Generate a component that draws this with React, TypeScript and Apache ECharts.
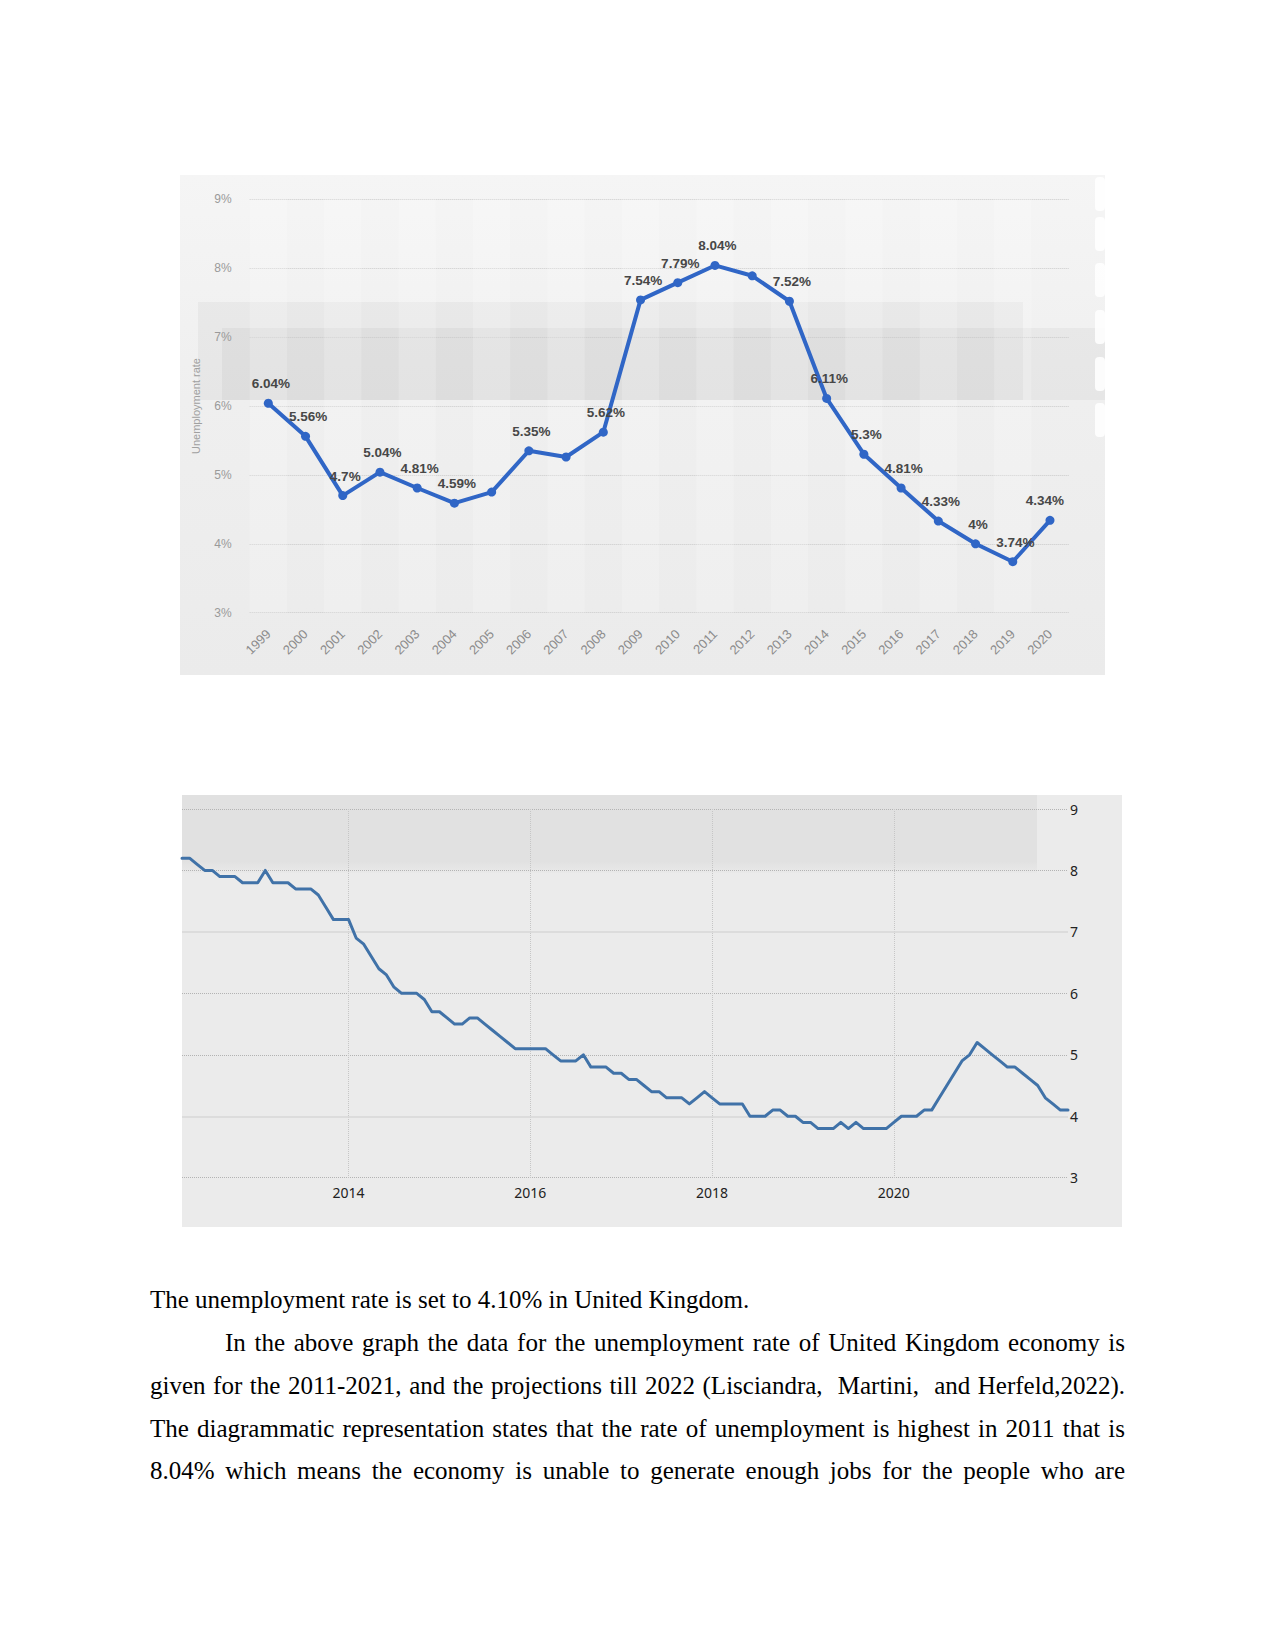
import React, { useEffect, useRef } from "react";
import * as echarts from "echarts";

// ---------- Chart 1: annual unemployment rate ----------
const years1 = ["1999","2000","2001","2002","2003","2004","2005","2006","2007","2008","2009","2010","2011","2012","2013","2014","2015","2016","2017","2018","2019","2020"];
const rates1 = [6.04,5.56,4.7,5.04,4.81,4.59,4.75,5.35,5.26,5.62,7.54,7.79,8.04,7.89,7.52,6.11,5.3,4.81,4.33,4,3.74,4.34];
const labelShown1 = [true,true,true,true,true,true,false,true,false,true,true,true,true,false,true,true,true,true,true,true,true,true];
const yMin = 3;
const yMax = 9;
const yStep = 1;

// ---------- Chart 2: monthly unemployment rate (Mar 2012 - Dec 2021) ----------
const startYear2 = 2012;
const startMonth2 = 3;
const rates2 = [
  8.2,8.2,8.1,8.0,8.0,7.9,7.9,7.9,7.8,7.8,
  7.8,8.0,7.8,7.8,7.8,7.7,7.7,7.7,7.6,7.4,
  7.2,7.2,7.2,6.9,6.8,6.6,6.4,6.3,6.1,6.0,
  6.0,6.0,5.9,5.7,5.7,5.6,5.5,5.5,5.6,5.6,
  5.5,5.4,5.3,5.2,5.1,5.1,5.1,5.1,5.1,5.0,
  4.9,4.9,4.9,5.0,4.8,4.8,4.8,4.7,4.7,4.6,
  4.6,4.5,4.4,4.4,4.3,4.3,4.3,4.2,4.3,4.4,
  4.3,4.2,4.2,4.2,4.2,4.0,4.0,4.0,4.1,4.1,
  4.0,4.0,3.9,3.9,3.8,3.8,3.8,3.9,3.8,3.9,
  3.8,3.8,3.8,3.8,3.9,4.0,4.0,4.0,4.1,4.1,
  4.3,4.5,4.7,4.9,5.0,5.2,5.1,5.0,4.9,4.8,
  4.8,4.7,4.6,4.5,4.3,4.2,4.1,4.1
];
const months2 = rates2.map((_, i) => {
  const m = startMonth2 - 1 + i;
  return `${startYear2 + Math.floor(m / 12)}-${String((m % 12) + 1).padStart(2, "0")}`;
});
const yearLabels2 = ["2014","2016","2018","2020"];
const solidGridValues2 = [4, 7];

// ---------- Body text ----------
const textLine1 = "The unemployment rate is set to 4.10% in United Kingdom.";
const textLinesJustified = [
  "In the above graph the data for the unemployment rate of United Kingdom economy is",
  "given for the 2011-2021, and the projections till 2022 (Lisciandra,\u00a0 Martini,\u00a0 and Herfeld,2022).",
  "The diagrammatic representation states that the rate of unemployment is highest in 2011 that is",
  "8.04% which means the economy is unable to generate enough jobs for the people who are",
];

const SANS = '"Liberation Sans", Arial, sans-serif';
const SANS2 = '"Noto Sans", "Open Sans", sans-serif';
const SERIF = '"Liberation Serif", "Times New Roman", serif';

const isYearTick2 = (_i: number, v: string) =>
  v.endsWith("-01") && yearLabels2.includes(v.slice(0, 4));

function buildOption(): any {
  const buttonsY = [177, 217, 263, 310, 357, 403];
  const graphic: any[] = [
    // chart 1 background
    {
      type: "rect", z: -20,
      shape: { x: 180, y: 175, width: 925, height: 500 },
      style: {
        fill: new echarts.graphic.LinearGradient(0, 0, 0, 1, [
          { offset: 0, color: "#f5f5f5" },
          { offset: 0.45, color: "#efefef" },
          { offset: 1, color: "#ebebeb" },
        ]),
      },
    },
    { type: "rect", z: -19, shape: { x: 198, y: 302, width: 825, height: 98 }, style: { fill: "rgba(0,0,0,0.035)" } },
    { type: "rect", z: -19, shape: { x: 222, y: 328, width: 883, height: 72 }, style: { fill: "rgba(0,0,0,0.035)" } },
    ...buttonsY.map((y) => ({
      type: "rect", z: -18,
      shape: { x: 1095, y, width: 10, height: 34, r: 4 },
      style: { fill: "rgba(255,255,255,0.85)" },
    })),
    // chart 2 background
    { type: "rect", z: -20, shape: { x: 182, y: 795, width: 940, height: 432 }, style: { fill: "#ebebeb" } },
    {
      type: "rect", z: -19,
      shape: { x: 182, y: 795, width: 855, height: 78 },
      style: {
        fill: new echarts.graphic.LinearGradient(0, 0, 0, 1, [
          { offset: 0, color: "#e1e1e1" },
          { offset: 0.85, color: "#e1e1e1" },
          { offset: 1, color: "#e9e9e9" },
        ]),
      },
    },
  ];

  const dotted2 = "#b3b3b3";

  return {
    animation: false,
    backgroundColor: "transparent",
    graphic,
    grid: [
      { left: 249.7, right: 206.4, top: 199.3, bottom: 1250 - 612.7, outerBoundsMode: "none" },
      { left: 182, right: 207, top: 809, bottom: 1250 - 1177.7, outerBoundsMode: "none" },
    ],
    xAxis: [
      {
        gridIndex: 0,
        type: "category",
        data: years1,
        boundaryGap: true,
        axisLine: { show: false },
        axisTick: { show: false },
        axisLabel: {
          interval: 0,
          rotate: 45,
          margin: 19,
          color: "#8c8c8c",
          fontSize: 13,
          fontFamily: SANS,
        },
        splitLine: { show: false },
        splitArea: {
          show: true,
          interval: 0,
          areaStyle: { color: ["rgba(255,255,255,0.2)", "rgba(255,255,255,0)"] },
        },
      },
      {
        gridIndex: 1,
        type: "category",
        data: months2,
        boundaryGap: false,
        axisLine: { show: false },
        axisTick: { show: false, interval: isYearTick2 },
        axisLabel: {
          interval: isYearTick2,
          formatter: (v: string) => v.slice(0, 4),
          margin: 8,
          color: "#222222",
          fontSize: 14,
          fontFamily: SANS2,
        },
        splitLine: {
          show: true,
          interval: isYearTick2,
          lineStyle: { color: "#c6c6c6", type: "dotted", width: 1 },
        },
      },
    ],
    yAxis: [
      {
        gridIndex: 0,
        type: "value",
        min: yMin,
        max: yMax,
        interval: yStep,
        name: "Unemployment rate",
        nameLocation: "middle",
        nameGap: 48,
        nameTextStyle: { color: "#a0a0a0", fontSize: 11, fontFamily: SANS },
        axisLine: { show: false },
        axisTick: { show: false },
        axisLabel: {
          formatter: "{value}%",
          margin: 18,
          color: "#9a9a9a",
          fontSize: 12,
          fontFamily: SANS,
        },
        splitLine: { show: true, lineStyle: { color: "#c9c9c9", type: "dotted", width: 1 } },
      },
      {
        gridIndex: 1,
        type: "value",
        position: "right",
        min: yMin,
        max: yMax,
        interval: yStep,
        axisLine: { show: false },
        axisTick: { show: false },
        axisLabel: {
          margin: 2,
          color: "#222222",
          fontSize: 14,
          fontFamily: SANS2,
        },
        splitLine: {
          show: true,
          lineStyle: {
            // ticks 3..9: lines at 4 and 7 are drawn solid by the markLine below
            color: [dotted2, "transparent", dotted2, dotted2, "transparent", dotted2, dotted2],
            type: "dotted",
            width: 1,
          },
        },
      },
    ],
    series: [
      {
        type: "line",
        xAxisIndex: 0,
        yAxisIndex: 0,
        data: rates1.map((v, i) => ({
          value: v,
          label: {
            show: labelShown1[i],
            offset: i === rates1.length - 1 ? [-5, 0] : [2.5, 0],
          },
        })),
        symbol: "circle",
        symbolSize: 9,
        lineStyle: { color: "#3066c6", width: 4, join: "round" },
        itemStyle: { color: "#3066c6" },
        label: {
          show: true,
          position: "top",
          distance: 8,
          formatter: (p: any) => `${p.value}%`,
          color: "#474747",
          fontSize: 13.5,
          fontWeight: "bold",
          fontFamily: SANS,
        },
        z: 5,
      },
      {
        type: "line",
        xAxisIndex: 1,
        yAxisIndex: 1,
        data: rates2,
        showSymbol: false,
        symbol: "none",
        lineStyle: { color: "#4072a8", width: 3, join: "round", cap: "round" },
        markLine: {
          silent: true,
          symbol: "none",
          label: { show: false },
          lineStyle: { color: "#d7d7d7", type: "solid", width: 1.5 },
          data: solidGridValues2.map((v) => ({ yAxis: v })),
          z: 1,
        },
        z: 5,
      },
    ],
  };
}

export default function App() {
  const ref = useRef<HTMLDivElement>(null);
  useEffect(() => {
    if (!ref.current) return;
    const chart = echarts.init(ref.current, undefined, { renderer: "svg" });
    chart.setOption(buildOption());
    return () => chart.dispose();
  }, []);

  const baseText: React.CSSProperties = {
    position: "absolute",
    fontFamily: SERIF,
    fontSize: "25px",
    lineHeight: "43px",
    height: "43px",
    color: "#000",
    margin: 0,
  };
  const lineTop = (k: number) => 1278 + k * 42.85;

  return (
    <div style={{ position: "absolute", left: 0, top: 0, width: 1275, height: 1650, background: "#fff", overflow: "hidden" }}>
      <div ref={ref} style={{ position: "absolute", left: 0, top: 0, width: 1275, height: 1250 }} />
      <div style={{ ...baseText, left: 150, top: lineTop(0), whiteSpace: "nowrap" }}>{textLine1}</div>
      {textLinesJustified.map((t, k) => (
        <div
          key={k}
          style={{
            ...baseText,
            left: k === 0 ? 225 : 150,
            width: k === 0 ? 900 : 975,
            top: lineTop(k + 1),
            textAlign: "justify",
            textAlignLast: "justify",
          }}
        >
          {t}
        </div>
      ))}
    </div>
  );
}
